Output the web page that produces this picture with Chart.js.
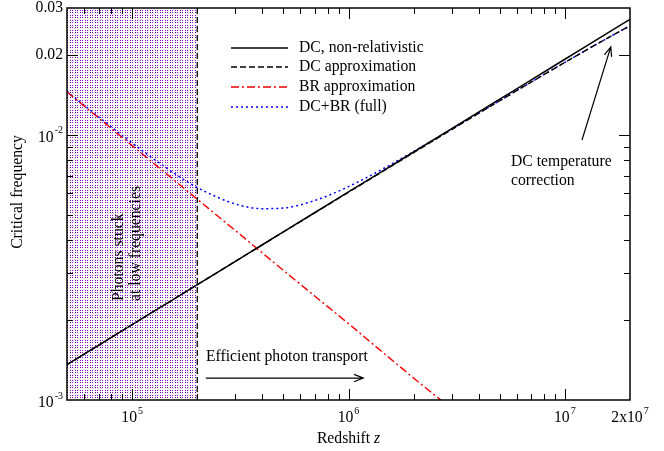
<!DOCTYPE html>
<html>
<head>
<meta charset="utf-8">
<script src="https://cdn.jsdelivr.net/npm/chart.js@4.4.1/dist/chart.umd.min.js"></script>
<style>
  body { margin: 0; background: #fff; }
</style>
</head>
<body>
<canvas id="myChart" width="664" height="451"></canvas>
<script>
// redshift grid and critical frequencies
const redshift = [5e4, 7e4, 1e5, 1.5e5, 2e5, 3e5, 4e5, 5e5, 7e5, 1e6, 1.5e6, 2e6, 3e6, 5e6, 7e6, 1e7, 1.5e7, 2e7];
const dcNonRel = [1.359e-3, 1.608e-3, 1.923e-3, 2.355e-3, 2.719e-3, 3.331e-3, 3.846e-3, 4.30e-3, 5.088e-3, 6.08e-3, 7.447e-3, 8.60e-3, 1.0533e-2, 1.3598e-2, 1.609e-2, 1.923e-2, 2.355e-2, 2.719e-2];
const dcApprox = [1.359e-3, 1.608e-3, 1.923e-3, 2.355e-3, 2.719e-3, 3.330e-3, 3.844e-3, 4.297e-3, 5.080e-3, 6.064e-3, 7.417e-3, 8.554e-3, 1.0449e-2, 1.3414e-2, 1.5784e-2, 1.871e-2, 2.260e-2, 2.572e-2];
const brApprox = [1.449e-2, 1.156e-2, 9.09e-3, 6.93e-3, 5.71e-3, 4.35e-3, 3.58e-3, 3.08e-3, 2.46e-3, 1.94e-3, 1.47e-3, 1.21e-3, 9.25e-4, null, null, null, null, null];
const dcBrFull = [1.455e-2, 1.167e-2, 9.30e-3, 7.32e-3, 6.32e-3, 5.48e-3, 5.26e-3, 5.29e-3, 5.65e-3, 6.37e-3, 7.56e-3, 8.64e-3, 1.049e-2, 1.343e-2, 1.579e-2, 1.872e-2, 2.260e-2, 2.572e-2];

const seriesNames = ['DC, non-relativistic', 'DC approximation', 'BR approximation', 'DC+BR (full)'];

// axis ticks
const xMajor = [1e5, 1e6, 1e7];
const xMinor = [6e4, 7e4, 8e4, 9e4, 2e5, 3e5, 4e5, 5e5, 6e5, 7e5, 8e5, 9e5, 2e6, 3e6, 4e6, 5e6, 6e6, 7e6, 8e6, 9e6];
const xLabels = [[1e5, '10', '5'], [1e6, '10', '6'], [1e7, '10', '7'], [2e7, '2x10', '7']];
const yMajor = [1e-2, 2e-2];
const yMinor = [2e-3, 3e-3, 4e-3, 5e-3, 6e-3, 7e-3, 8e-3, 9e-3];
const yLabels = [[1e-3, '10', '-3'], [1e-2, '10', '-2'], [2e-2, '0.02', ''], [3e-2, '0.03', '']];

// low-frequency region (photons stuck)
const stuckRange = [5e4, 2e5];

const serif = '"Liberation Serif", "Times New Roman", serif';
const big = '15.7px ' + serif;

function pts(values) {
  return redshift.map((z, i) => ({ x: z, y: values[i] }));
}

function dotPattern(ctx) {
  const c = document.createElement('canvas');
  c.width = 5;
  c.height = 5;
  const p = c.getContext('2d');
  p.fillStyle = '#fff';
  p.fillRect(0, 0, 5, 5);
  p.fillStyle = '#9000e0';
  p.fillRect(0, 0, 1, 1);
  p.fillRect(2, 0, 1, 1);
  p.fillRect(2, 2, 1, 1);
  p.fillStyle = '#50007a';
  p.fillRect(0, 2, 1, 1);
  return ctx.createPattern(c, 'repeat');
}

function powText(ctx, base, exp, x, y, align) {
  ctx.font = big;
  const wb = ctx.measureText(base).width;
  ctx.font = '10px ' + serif;
  const we = exp ? ctx.measureText(exp).width + 1 : 0;
  let left = x - (wb + we) / 2;
  if (align === 'right') left = x - wb - we;
  ctx.textAlign = 'left';
  ctx.textBaseline = 'middle';
  ctx.font = big;
  ctx.fillText(base, left, y);
  if (exp) {
    ctx.font = '10px ' + serif;
    ctx.fillText(exp, left + wb + 1, y - 7);
  }
}

function arrow(ctx, x1, y1, x2, y2) {
  const a = Math.atan2(y2 - y1, x2 - x1);
  const len = 10, spread = 0.38;
  ctx.beginPath();
  ctx.moveTo(x1, y1);
  ctx.lineTo(x2, y2);
  ctx.moveTo(x2 - len * Math.cos(a - spread), y2 - len * Math.sin(a - spread));
  ctx.lineTo(x2, y2);
  ctx.lineTo(x2 - len * Math.cos(a + spread), y2 - len * Math.sin(a + spread));
  ctx.stroke();
}

const decor = {
  id: 'decor',
  beforeDatasetsDraw(chart) {
    const { ctx, chartArea: a, scales: { x } } = chart;
    const x0 = x.getPixelForValue(stuckRange[0]);
    const x1 = x.getPixelForValue(stuckRange[1]);
    ctx.save();
    ctx.fillStyle = dotPattern(ctx);
    ctx.fillRect(x0, a.top, x1 - x0, a.bottom - a.top);
    ctx.strokeStyle = '#000';
    ctx.lineWidth = 1.3;
    ctx.setLineDash([6, 3]);
    ctx.beginPath();
    ctx.moveTo(x1, a.top);
    ctx.lineTo(x1, a.bottom);
    ctx.stroke();
    ctx.restore();
  },
  afterDatasetsDraw(chart) {
    const { ctx, chartArea: a, scales: { x, y } } = chart;
    ctx.save();
    ctx.strokeStyle = '#000';
    ctx.fillStyle = '#000';

    // frame
    ctx.lineWidth = 1.5;
    ctx.strokeRect(a.left, a.top, a.right - a.left, a.bottom - a.top);

    // inward ticks on all four sides
    ctx.lineWidth = 1;
    ctx.beginPath();
    const tx = (v, len) => {
      const px = Math.round(x.getPixelForValue(v)) + 0.5;
      ctx.moveTo(px, a.bottom); ctx.lineTo(px, a.bottom - len);
      ctx.moveTo(px, a.top); ctx.lineTo(px, a.top + len);
    };
    const ty = (v, len) => {
      const py = Math.round(y.getPixelForValue(v)) + 0.5;
      ctx.moveTo(a.left, py); ctx.lineTo(a.left + len, py);
      ctx.moveTo(a.right, py); ctx.lineTo(a.right - len, py);
    };
    xMajor.forEach(v => tx(v, 11));
    xMinor.forEach(v => tx(v, 6));
    yMajor.forEach(v => ty(v, 11));
    yMinor.forEach(v => ty(v, 6));
    ctx.stroke();

    // tick labels
    xLabels.forEach(([v, base, exp]) => powText(ctx, base, exp, x.getPixelForValue(v), a.bottom + 18));
    yLabels.forEach(([v, base, exp]) => {
      const py = y.getPixelForValue(v) + (exp ? 3 : 0);
      powText(ctx, base, exp, a.left - 4, py, 'right');
    });

    // axis titles
    ctx.font = big;
    ctx.textBaseline = 'middle';
    const t1 = 'Redshift ';
    const w1 = ctx.measureText(t1).width;
    ctx.font = 'italic ' + big;
    const w2 = ctx.measureText('z').width;
    const cx = (a.left + a.right) / 2;
    ctx.textAlign = 'left';
    ctx.font = big;
    ctx.fillText(t1, cx - (w1 + w2) / 2, 439);
    ctx.font = 'italic ' + big;
    ctx.fillText('z', cx - (w1 + w2) / 2 + w1, 439);

    ctx.save();
    ctx.translate(18, 192);
    ctx.rotate(-Math.PI / 2);
    ctx.textAlign = 'center';
    ctx.font = big;
    ctx.fillText('Critical frequency', 0, 0);
    ctx.restore();

    // legend
    const rows = [48, 67, 87, 107];
    chart.data.datasets.forEach((ds, i) => {
      ctx.save();
      ctx.strokeStyle = ds.borderColor;
      ctx.lineWidth = ds.borderWidth;
      ctx.setLineDash(ds.borderDash || []);
      ctx.beginPath();
      ctx.moveTo(231, rows[i]);
      ctx.lineTo(288, rows[i]);
      ctx.stroke();
      ctx.restore();
      ctx.font = big;
      ctx.textAlign = 'left';
      ctx.textBaseline = 'middle';
      ctx.fillText(ds.label, 299, rows[i]);
    });

    // annotations
    ctx.save();
    ctx.translate(x.getPixelForValue(9.6e4), 301);
    ctx.rotate(-Math.PI / 2);
    ctx.textAlign = 'left';
    ctx.textBaseline = 'middle';
    ctx.font = big;
    ctx.fillText('Photons stuck', 0, -9);
    ctx.fillText('at low frequencies', 0, 8);
    ctx.restore();

    ctx.font = big;
    ctx.textAlign = 'left';
    ctx.textBaseline = 'middle';
    ctx.fillText('Efficient photon transport', 206, 357);
    ctx.fillText('DC temperature', 511, 162);
    ctx.fillText('correction', 511, 181);

    ctx.lineWidth = 1.2;
    arrow(ctx, x.getPixelForValue(2.19e5), y.getPixelForValue(1.21e-3),
      x.getPixelForValue(1.17e6), y.getPixelForValue(1.21e-3));
    arrow(ctx, x.getPixelForValue(1.2e7), y.getPixelForValue(9.54e-3),
      x.getPixelForValue(1.63e7), y.getPixelForValue(0.0214));
    ctx.restore();
  }
};

const config = {
  type: 'line',
  data: {
    datasets: [
      { label: seriesNames[0], data: pts(dcNonRel), borderColor: '#000', borderWidth: 1.5 },
      { label: seriesNames[1], data: pts(dcApprox), borderColor: '#000', borderWidth: 1.4, borderDash: [6, 3] },
      { label: seriesNames[2], data: pts(brApprox), borderColor: '#f00000', borderWidth: 1.4, borderDash: [8, 3, 2, 3] },
      { label: seriesNames[3], data: pts(dcBrFull), borderColor: '#0000ff', borderWidth: 1.5, borderDash: [2, 3] },
    ],
  },
  options: {
    responsive: false,
    animation: false,
    events: [],
    layout: { padding: { left: 67, right: 34, top: 8, bottom: 51 } },
    elements: {
      point: { radius: 0 },
      line: { cubicInterpolationMode: 'monotone', fill: false },
    },
    plugins: { legend: { display: false }, tooltip: { enabled: false } },
    scales: {
      x: {
        type: 'logarithmic', min: 5e4, max: 2e7,
        grid: { display: false, drawTicks: false },
        border: { display: false },
        ticks: { display: false },
      },
      y: {
        type: 'logarithmic', min: 1e-3, max: 3e-2,
        grid: { display: false, drawTicks: false },
        border: { display: false },
        ticks: { display: false },
      },
    },
  },
  plugins: [decor],
};

const myChart = new Chart(document.getElementById('myChart'), config);
</script>
</body>
</html>
